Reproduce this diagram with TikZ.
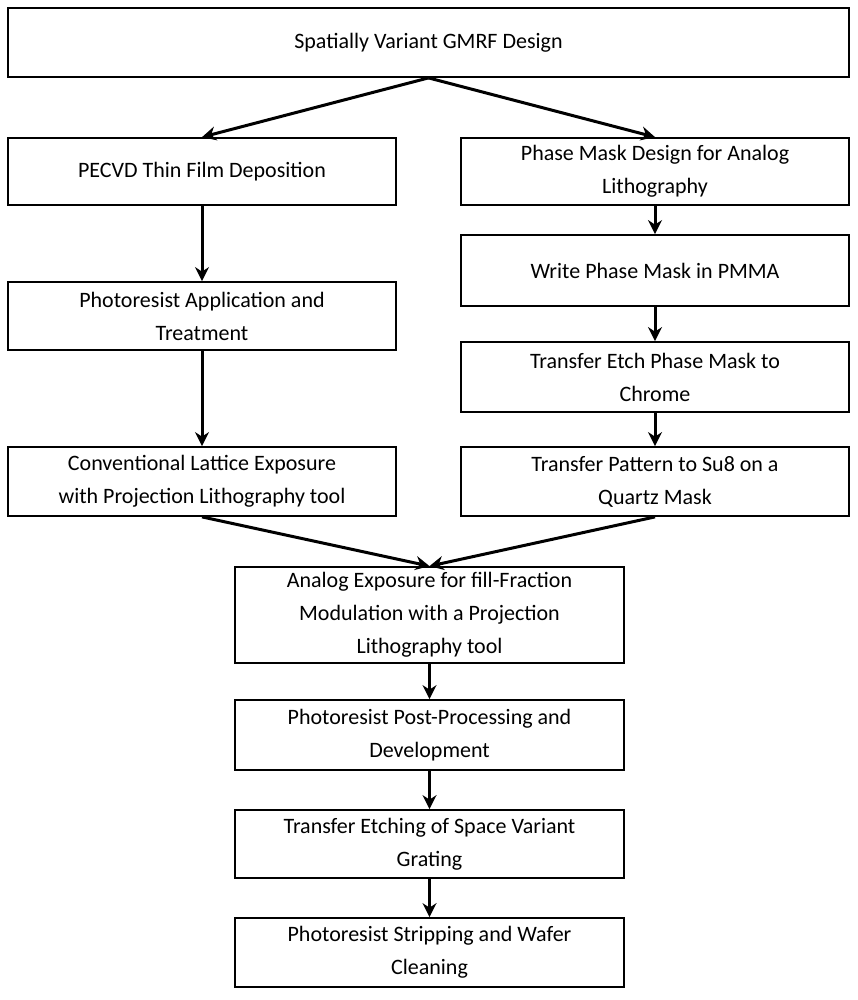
\documentclass[tikz,border=0pt]{standalone}
\usepackage{fontspec}
\setmainfont{Carlito}
\usetikzlibrary{arrows.meta}
\begin{document}
\begin{tikzpicture}[x=1pt,y=-1pt,
  box/.style={draw=black,line width=1.8pt,fill=white,align=center,inner sep=0pt,
    font=\fontsize{22}{33}\selectfont},
  arr/.style={line width=3pt,-{Stealth[length=14pt,width=14pt]}}]
\useasboundingbox (0,0) rectangle (857,1000);
\newcommand{\bx}[6]{\node[box,minimum width={#4-#2},minimum height={#5-#3}] (#1) at ({(#2+#4)/2},{(#3+#5)/2}) {#6};}
\bx{top}{8}{8}{849}{77}{Spatially Variant GMRF Design}
\bx{l1}{8}{138}{396}{205}{PECVD Thin Film Deposition}
\bx{r1}{461}{138}{849}{205}{Phase Mask Design for Analog\\Lithography}
\bx{l2}{8}{282}{396}{350}{Photoresist Application and\\Treatment}
\bx{r2}{461}{235}{849}{306}{Write Phase Mask in PMMA}
\bx{r3}{461}{342}{849}{412}{Transfer Etch Phase Mask to\\Chrome}
\bx{l3}{8}{447}{396}{516}{Conventional Lattice Exposure\\with Projection Lithography tool}
\bx{r4}{461}{447}{849}{516}{Transfer Pattern to Su8 on a\\Quartz Mask}
\bx{c1}{235}{567}{624}{663}{Analog Exposure for fill-Fraction\\Modulation with a Projection\\Lithography tool}
\bx{c2}{235}{700}{624}{770}{Photoresist Post-Processing and\\Development}
\bx{c3}{235}{810}{624}{878}{Transfer Etching of Space Variant\\Grating}
\bx{c4}{235}{918}{624}{987}{Photoresist Stripping and Wafer\\Cleaning}
\draw[arr] (top.south) -- (l1.north);
\draw[arr] (top.south) -- (r1.north);
\draw[arr] (l1) -- (l2);
\draw[arr] (l2) -- (l3);
\draw[arr] (r1) -- (r2);
\draw[arr] (r2) -- (r3);
\draw[arr] (r3) -- (r4);
\draw[arr] (l3.south) -- (c1.north);
\draw[arr] (r4.south) -- (c1.north);
\draw[arr] (c1) -- (c2);
\draw[arr] (c2) -- (c3);
\draw[arr] (c3) -- (c4);
\end{tikzpicture}
\end{document}
